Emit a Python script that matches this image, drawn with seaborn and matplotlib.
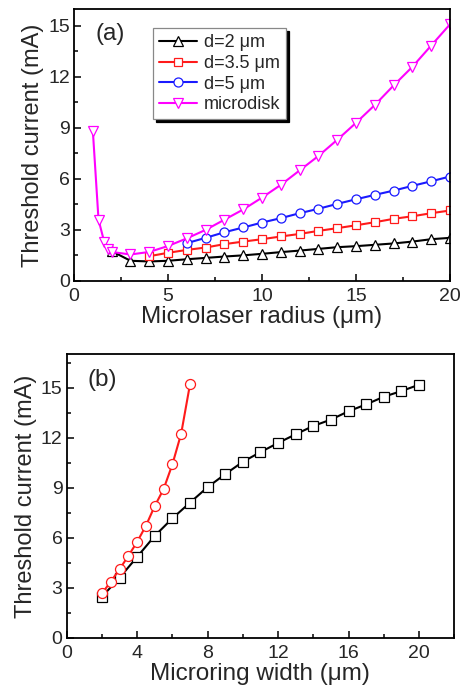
import matplotlib
matplotlib.use("Agg")
import matplotlib.pyplot as plt
from matplotlib.ticker import MultipleLocator, AutoMinorLocator
import seaborn as sns

# Panel (a): threshold current vs microlaser radius
r_d2 = [2, 3, 4, 5, 6, 7, 8, 9, 10, 11, 12, 13, 14, 15, 16, 17, 18, 19, 20]
i_d2 = [1.75, 1.18, 1.14, 1.18, 1.27, 1.35, 1.43, 1.5, 1.59, 1.69, 1.78, 1.88,
        1.98, 2.04, 2.12, 2.2, 2.31, 2.45, 2.53]

r_d35 = [4, 5, 6, 7, 8, 9, 10, 11, 12, 13, 14, 15, 16, 17, 18, 19, 20]
i_d35 = [1.45, 1.65, 1.82, 1.96, 2.16, 2.31, 2.45, 2.61, 2.76, 2.94, 3.1, 3.27,
         3.45, 3.65, 3.8, 3.98, 4.14]

r_d5 = [6, 7, 8, 9, 10, 11, 12, 13, 14, 15, 16, 17, 18, 19, 20]
i_d5 = [2.22, 2.53, 2.86, 3.14, 3.43, 3.69, 3.98, 4.24, 4.53, 4.8, 5.06, 5.31,
        5.59, 5.86, 6.14]

r_disk = [1, 1.3, 1.6, 1.8, 2, 3, 4, 5, 6, 7, 8, 9, 10, 11, 12, 13, 14, 15,
          16, 17, 18, 19, 20]
i_disk = [8.8, 3.6, 2.3, 1.9, 1.7, 1.55, 1.7, 2.05, 2.5, 3.0, 3.6, 4.2, 4.9,
          5.65, 6.5, 7.35, 8.3, 9.3, 10.35, 11.5, 12.6, 13.85, 15.1]

# Panel (b): threshold current vs microring width
w_black = [2, 3, 4, 5, 6, 7, 8, 9, 10, 11, 12, 13, 14, 15, 16, 17, 18, 19, 20]
i_black = [2.47, 3.61, 4.86, 6.12, 7.17, 8.11, 9.04, 9.82, 10.56, 11.14,
           11.69, 12.21, 12.71, 13.09, 13.59, 14.0, 14.46, 14.8, 15.18]

w_red = [2, 2.5, 3, 3.5, 4, 4.5, 5, 5.5, 6, 6.5, 7]
i_red = [2.67, 3.37, 4.12, 4.92, 5.76, 6.73, 7.91, 8.92, 10.4, 12.25, 15.2]

sns.set_theme(style="ticks")
plt.rcParams["font.family"] = ["Liberation Sans", "DejaVu Sans"]

fig = plt.figure(figsize=(4.63, 6.90), dpi=100)
ax_a = fig.add_axes([0.160, 0.593, 0.812, 0.394])
ax_b = fig.add_axes([0.144, 0.0754, 0.837, 0.411])

RED = "#ff1a1a"
BLUE = "#1a1aff"
MAGENTA = "#ff00ff"


def curve(ax, x, y, color, marker, ms, label=None):
    sns.lineplot(x=x, y=y, ax=ax, color=color, lw=1.5, marker=marker,
                 ms=ms, markerfacecolor="white", markeredgecolor=color,
                 markeredgewidth=0.9, label=label, sort=False)


curve(ax_a, r_d2, i_d2, "black", "^", 7.0, "d=2 μm")
curve(ax_a, r_d35, i_d35, RED, "s", 6.0, "d=3.5 μm")
curve(ax_a, r_d5, i_d5, BLUE, "o", 6.5, "d=5 μm")
curve(ax_a, r_disk, i_disk, MAGENTA, "v", 7.0, "microdisk")

curve(ax_b, w_black, i_black, "black", "s", 6.8)
curve(ax_b, w_red, i_red, RED, "o", 7.2)

for ax in (ax_a, ax_b):
    for s in ax.spines.values():
        s.set_linewidth(1.3)
        s.set_color("black")
    ax.tick_params(which="both", direction="in", top=False, right=False,
                   labelsize=14, color="black", width=1.1)
    ax.tick_params(axis="x", pad=5)
    ax.tick_params(axis="y", pad=3)
    ax.tick_params(which="major", length=5)
    ax.tick_params(which="minor", length=3)
    ax.yaxis.set_major_locator(MultipleLocator(3))
    ax.yaxis.set_minor_locator(AutoMinorLocator(2))
    ax.set_ylabel("Threshold current (mA)", fontsize=17, labelpad=3)

ax_a.set_xlim(0, 20)
ax_a.set_ylim(0, 16)
ax_a.xaxis.set_major_locator(MultipleLocator(5))
ax_a.xaxis.set_minor_locator(AutoMinorLocator(2))
ax_a.set_xlabel("Microlaser radius (μm)", fontsize=17.5, labelpad=1)
ax_a.text(0.056, 0.95, "(a)", transform=ax_a.transAxes, fontsize=17.5,
          va="top", ha="left")

leg = ax_a.legend(loc="upper left", bbox_to_anchor=(0.21, 0.93),
                  fontsize=13, frameon=True, fancybox=False,
                  shadow={"color": "black", "alpha": 1.0},
                  handlelength=2.1, handletextpad=0.35, borderpad=0.35,
                  labelspacing=0.2, borderaxespad=0)
leg.get_frame().set_edgecolor("#888888")
leg.get_frame().set_linewidth(0.9)

ax_b.set_xlim(0, 22)
ax_b.set_ylim(0, 17)
ax_b.xaxis.set_major_locator(MultipleLocator(4))
ax_b.xaxis.set_minor_locator(AutoMinorLocator(2))
ax_b.set_xlabel("Microring width (μm)", fontsize=17.5, labelpad=1)
ax_b.text(0.055, 0.95, "(b)", transform=ax_b.transAxes, fontsize=17.5,
          va="top", ha="left")

fig.savefig("out.png", dpi=100)
